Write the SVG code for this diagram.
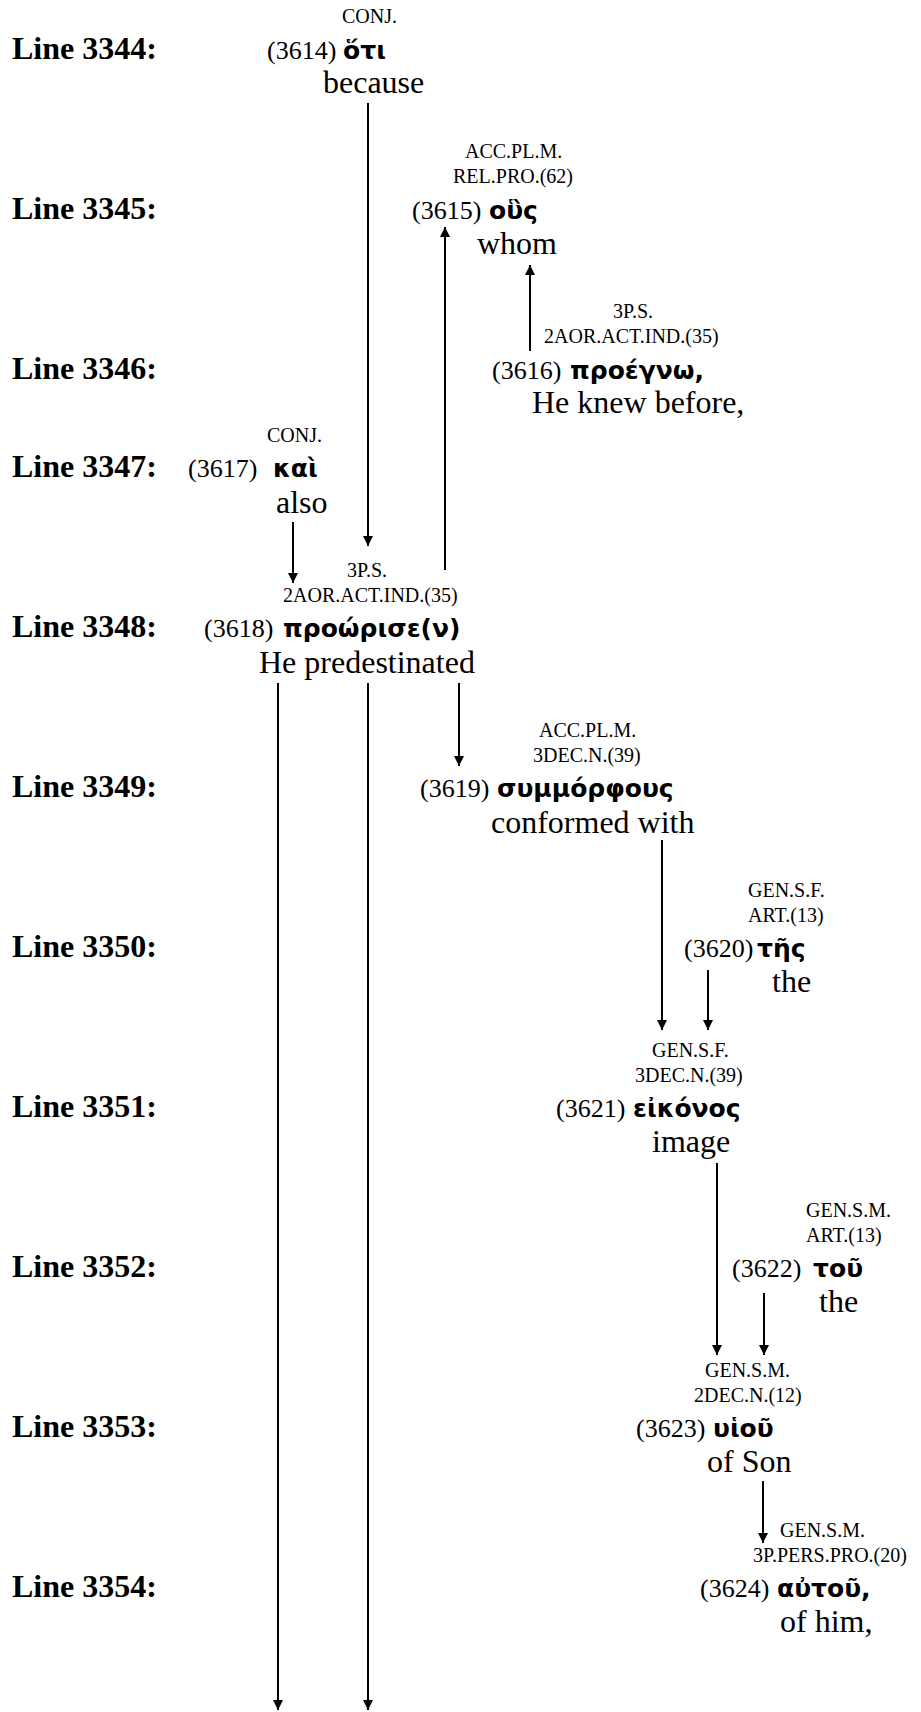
<svg xmlns="http://www.w3.org/2000/svg" width="921" height="1712" viewBox="0 0 921 1712">
<style>
text{fill:#000}
.ln{font-family:"Liberation Serif",serif;font-weight:bold;font-size:32px}
.lb{font-family:"Liberation Serif",serif;font-size:20px}
.nm{font-family:"Liberation Serif",serif;font-size:26px}
.gk{font-family:"DejaVu Sans",sans-serif;font-weight:bold;font-size:25px}
.en{font-family:"Liberation Serif",serif;font-size:32px}
.c{stroke:#000;stroke-width:2;fill:none;marker-end:url(#ah)}
</style>
<defs>
<marker id="ah" viewBox="0 0 10 10" refX="10" refY="5" markerWidth="10" markerHeight="11" markerUnits="userSpaceOnUse" orient="auto">
<path d="M0,0 L10,5 L0,10 z" fill="#000"/>
</marker>
</defs>
<rect width="921" height="1712" fill="#fff"/>
<g id="line-labels">
<text class="ln" x="12" y="59">Line 3344:</text>
<text class="ln" x="12" y="219">Line 3345:</text>
<text class="ln" x="12" y="379">Line 3346:</text>
<text class="ln" x="12" y="477">Line 3347:</text>
<text class="ln" x="12" y="637">Line 3348:</text>
<text class="ln" x="12" y="797">Line 3349:</text>
<text class="ln" x="12" y="957">Line 3350:</text>
<text class="ln" x="12" y="1117">Line 3351:</text>
<text class="ln" x="12" y="1277">Line 3352:</text>
<text class="ln" x="12" y="1437">Line 3353:</text>
<text class="ln" x="12" y="1597">Line 3354:</text>
</g>
<g id="n3614">
<text class="lb" x="342" y="23">CONJ.</text>
<text class="nm" x="267" y="59">(3614)</text>
<text class="gk" x="343" y="59">ὅτι</text>
<text class="en" x="323" y="93">because</text>
</g>
<g id="n3615">
<text class="lb" x="465" y="158">ACC.PL.M.</text>
<text class="lb" x="453" y="183">REL.PRO.(62)</text>
<text class="nm" x="412" y="219">(3615)</text>
<text class="gk" x="489" y="219">οὓς</text>
<text class="en" x="477" y="254">whom</text>
</g>
<g id="n3616">
<text class="lb" x="613" y="318">3P.S.</text>
<text class="lb" x="544" y="343">2AOR.ACT.IND.(35)</text>
<text class="nm" x="492" y="379">(3616)</text>
<text class="gk" x="570" y="379">προέγνω,</text>
<text class="en" x="532" y="413">He knew before,</text>
</g>
<g id="n3617">
<text class="lb" x="267" y="442">CONJ.</text>
<text class="nm" x="188" y="477">(3617)</text>
<text class="gk" x="273" y="477">καὶ</text>
<text class="en" x="276" y="513">also</text>
</g>
<g id="n3618">
<text class="lb" x="347" y="577">3P.S.</text>
<text class="lb" x="283" y="602">2AOR.ACT.IND.(35)</text>
<text class="nm" x="204" y="637">(3618)</text>
<text class="gk" x="283" y="637">προώρισε(ν)</text>
<text class="en" x="259" y="673">He predestinated</text>
</g>
<g id="n3619">
<text class="lb" x="539" y="737">ACC.PL.M.</text>
<text class="lb" x="533" y="762">3DEC.N.(39)</text>
<text class="nm" x="420" y="797">(3619)</text>
<text class="gk" x="497" y="797">συμμόρφους</text>
<text class="en" x="491" y="833">conformed with</text>
</g>
<g id="n3620">
<text class="lb" x="748" y="897">GEN.S.F.</text>
<text class="lb" x="748" y="922">ART.(13)</text>
<text class="nm" x="684" y="957">(3620)</text>
<text class="gk" x="757" y="957">τῆς</text>
<text class="en" x="772" y="992">the</text>
</g>
<g id="n3621">
<text class="lb" x="652" y="1057">GEN.S.F.</text>
<text class="lb" x="635" y="1082">3DEC.N.(39)</text>
<text class="nm" x="556" y="1117">(3621)</text>
<text class="gk" x="633" y="1117">εἰκόνος</text>
<text class="en" x="652" y="1152">image</text>
</g>
<g id="n3622">
<text class="lb" x="806" y="1217">GEN.S.M.</text>
<text class="lb" x="806" y="1242">ART.(13)</text>
<text class="nm" x="732" y="1277">(3622)</text>
<text class="gk" x="813" y="1277">τοῦ</text>
<text class="en" x="819" y="1312">the</text>
</g>
<g id="n3623">
<text class="lb" x="705" y="1377">GEN.S.M.</text>
<text class="lb" x="694" y="1402">2DEC.N.(12)</text>
<text class="nm" x="636" y="1437">(3623)</text>
<text class="gk" x="713" y="1437">υἱοῦ</text>
<text class="en" x="707" y="1472">of Son</text>
</g>
<g id="n3624">
<text class="lb" x="780" y="1537">GEN.S.M.</text>
<text class="lb" x="753" y="1562">3P.PERS.PRO.(20)</text>
<text class="nm" x="700" y="1597">(3624)</text>
<text class="gk" x="777" y="1597">αὐτοῦ,</text>
<text class="en" x="780" y="1632">of him,</text>
</g>
<g id="connectors">
<line class="c" x1="368" y1="103" x2="368" y2="546"/>
<line class="c" x1="445" y1="570" x2="445" y2="227"/>
<line class="c" x1="530" y1="351" x2="530" y2="265"/>
<line class="c" x1="293" y1="522" x2="293" y2="583"/>
<line class="c" x1="278" y1="683" x2="278" y2="1710"/>
<line class="c" x1="368" y1="683" x2="368" y2="1710"/>
<line class="c" x1="459" y1="683" x2="459" y2="766"/>
<line class="c" x1="662" y1="840" x2="662" y2="1030"/>
<line class="c" x1="708" y1="970" x2="708" y2="1030"/>
<line class="c" x1="717" y1="1163" x2="717" y2="1355"/>
<line class="c" x1="764" y1="1293" x2="764" y2="1355"/>
<line class="c" x1="763" y1="1481" x2="763" y2="1543"/>
</g>
</svg>
